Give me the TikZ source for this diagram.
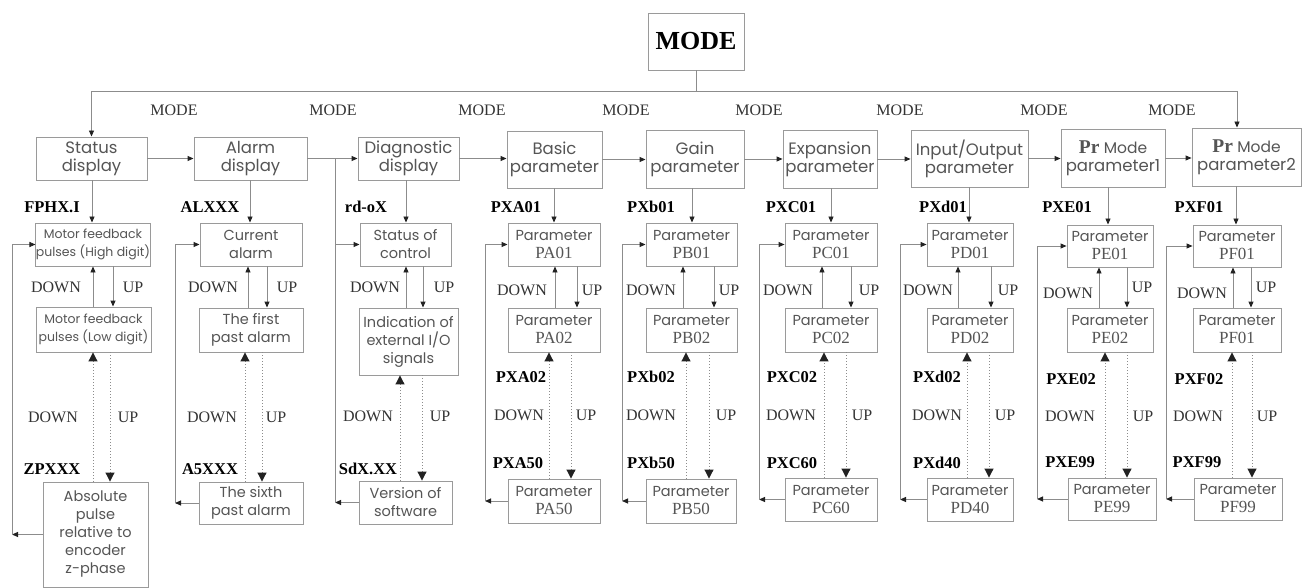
\documentclass[tikz,border=0pt]{standalone}
\usepackage{fontspec}
\setmainfont{Liberation Serif}
\newfontfamily\gothic{Poppins}
\usetikzlibrary{arrows.meta}
\definecolor{boxc}{HTML}{9A9A9A}
\definecolor{linec}{HTML}{8C8C8C}
\definecolor{txtc}{HTML}{555555}
\definecolor{labc}{HTML}{333333}
\definecolor{tipc}{HTML}{222222}
\tikzset{
 bx/.style={draw=boxc, line width=0.9pt, inner sep=0pt, align=center, text=txtc, font=\gothic\fontsize{14.5}{18}\selectfont},
 tbx/.style={bx, font=\gothic\fontsize{16.5}{18}\selectfont},
 sbx/.style={bx, font=\gothic\fontsize{12.5}{18}\selectfont},
 ln/.style={draw=linec, line width=0.9pt},
 arr/.style={ln, -{Triangle[width=5pt,length=6pt,color=tipc]}},
 darr/.style={draw=linec, line width=1pt, dotted, -{Triangle[width=9pt,length=9pt,color=tipc]}},
 code/.style={font=\fontsize{16.5}{16.5}\selectfont\bfseries, text=black, inner sep=0pt},
 lab/.style={font=\fontsize{16}{16}\selectfont, text=labc, inner sep=0pt},
}
\newcommand\myB[7][bx]{\node[#1,minimum width={(#5-#3)*1pt},minimum height={(#6-#4)*1pt}] (#2) at ({(#3+#5)/2},{(#4+#6)/2}) {#7};}
\newcommand\myCol[7]{%
 \draw[arr] (#1.south -| #2,0) -- (#11.north -| #2,0);
 \draw[arr] (#12.north -| #3,0) -- (#11.south -| #3,0);
 \draw[arr] (#11.south -| #4,0) -- (#12.north -| #4,0);
 \draw[darr] (#13.north -| #5,0) -- (#12.south -| #5,0);
 \draw[darr] (#12.south -| #6,0) -- (#13.north -| #6,0);
 \coordinate (#1L) at (#7,0);
 \draw[arr] (#13.west) -- (#13.west -| #1L);
 \draw[arr] (#13.west -| #1L) |- (#11.west);
}
\newcommand\myPar[1]{Parameter\\{\rmfamily\fontsize{17}{18}\selectfont #1}}
\newcommand\myPrM[1]{{\rmfamily\bfseries\fontsize{19.5}{18}\selectfont Pr} {\fontsize{15.5}{18}\selectfont Mode}\\parameter#1}
\begin{document}
\begin{tikzpicture}[x=1pt,y=-1pt]
\useasboundingbox[fill=white] (0,0) rectangle (1304,588);
% top MODE
\node[draw=boxc, line width=0.9pt, inner sep=0pt, font=\bfseries\fontsize{26}{26}\selectfont, text=black, minimum width=96pt, minimum height=57pt] (mode) at (696,41.5) {MODE};
% top row
\myB[tbx]{st}{36}{137}{147}{180}{Status\\display}
\myB[tbx]{al}{194}{137}{307}{180}{Alarm\\display}
\myB[tbx]{dg}{358}{137}{459}{180}{Diagnostic\\display}
\myB[tbx]{ba}{507}{131}{602}{188}{Basic\\parameter}
\myB[tbx]{ga}{646}{130}{744}{188}{Gain\\parameter}
\myB[tbx]{ex}{783}{130}{877}{188}{Expansion\\parameter}
\myB[tbx]{io}{911}{130}{1028}{187}{Input/Output\\parameter}
\myB[tbx]{p1}{1061}{129}{1165}{187}{\myPrM{1}}
\myB[tbx]{p2}{1192}{128}{1301}{186}{\myPrM{2}}
% bus
\coordinate (bus) at (696,91);
\draw[ln] (mode.south) -- (bus);
\draw[arr] (bus) -| (st.north);
\draw[arr] (bus) -| (p2.north -| 1237,0);
\foreach \a/\b in {st/al,al/dg,dg/ba,ba/ga,ga/ex,ex/io,io/p1,p1/p2}
  \draw[arr] (\a.east) -- (\a.east -| \b.west);
% MODE labels
\foreach \x [count=\i] in {174,333,482,626,759,900,1044,1172}
  \node[lab] (ml\i) at (\x,110) {MODE};
% column boxes
\myB[sbx]{st1}{36}{223}{150}{266}{Motor feedback\\pulses (High digit)}
\myB[sbx]{st2}{36}{307}{151}{352}{Motor feedback\\pulses (Low digit)}
\myB{st3}{43}{482}{148}{587}{Absolute\\pulse\\relative to\\encoder\\z-phase}
\myB{al1}{200}{223}{302}{266}{Current\\alarm}
\myB{al2}{199}{308}{303}{352}{The first\\past alarm}
\myB{al3}{199}{482}{303}{524}{The sixth\\past alarm}
\myB{dg1}{360}{223}{451}{266}{Status of\\control}
\myB{dg2}{359}{308}{458}{375}{Indication of\\external I/O\\signals}
\myB{dg3}{359}{481}{452}{524}{Version of\\software}
\myB{ba1}{508}{223}{600}{266}{\myPar{PA01}}
\myB{ba2}{508}{308}{600}{352}{\myPar{PA02}}
\myB{ba3}{508}{479}{600}{523}{\myPar{PA50}}
\myB{ga1}{646}{223}{737}{266}{\myPar{PB01}}
\myB{ga2}{646}{308}{737}{352}{\myPar{PB02}}
\myB{ga3}{646}{479}{736}{523}{\myPar{PB50}}
\myB{ex1}{785}{223}{877}{266}{\myPar{PC01}}
\myB{ex2}{785}{308}{877}{352}{\myPar{PC02}}
\myB{ex3}{785}{478}{877}{521}{\myPar{PC60}}
\myB{io1}{927}{223}{1013}{266}{\myPar{PD01}}
\myB{io2}{927}{308}{1013}{352}{\myPar{PD02}}
\myB{io3}{927}{478}{1013}{521}{\myPar{PD40}}
\myB{p11}{1067}{225}{1153}{267}{\myPar{PE01}}
\myB{p12}{1067}{308}{1153}{352}{\myPar{PE02}}
\myB{p13}{1068}{478}{1156}{520}{\myPar{PE99}}
\myB{p21}{1193}{225}{1281}{267}{\myPar{PF01}}
\myB{p22}{1193}{308}{1281}{352}{\myPar{PF01}}
\myB{p23}{1194}{478}{1282}{520}{\myPar{PF99}}
% connectors per column
\myCol{st}{92}{93}{113}{93}{110}{12}
\myCol{al}{250}{248}{267}{245}{262}{175}
\myCol{dg}{406}{406}{423}{400}{422}{335}
\draw[ln] (al.east -| dgL) -- (dg3.west -| dgL);
\myCol{ba}{554}{555}{577}{549}{571}{485}
\myCol{ga}{692}{683}{714}{686}{709}{622}
\myCol{ex}{831}{822}{851}{824}{846}{759}
\myCol{io}{969}{958}{991}{967}{989}{900}
\myCol{p1}{1108}{1099}{1127}{1105}{1127}{1037}
\myCol{p2}{1236}{1233}{1251}{1232}{1252}{1166}
% codes
\node[code] (k1a) at (52,207) {FPHX.I};
\node[code] (k1c) at (52,469) {ZPXXX};
\node[code] (k2a) at (210,207) {ALXXX};
\node[code] (k2c) at (210,469) {A5XXX};
\node[code] (k3a) at (366,207) {rd-oX};
\node[code] (k3c) at (368,469) {SdX.XX};
\node[code] (k4a) at (516,207) {PXA01};
\node[code] (k4b) at (521,377) {PXA02};
\node[code] (k4c) at (518,463) {PXA50};
\node[code] (k5a) at (651,207) {PXb01};
\node[code] (k5b) at (651,377) {PXb02};
\node[code] (k5c) at (651,463) {PXb50};
\node[code] (k6a) at (791,207) {PXC01};
\node[code] (k6b) at (792,377) {PXC02};
\node[code] (k6c) at (792,463) {PXC60};
\node[code] (k7a) at (943,207) {PXd01};
\node[code] (k7b) at (937,377) {PXd02};
\node[code] (k7c) at (937,463) {PXd40};
\node[code] (k8a) at (1067,207) {PXE01};
\node[code] (k8b) at (1071,379) {PXE02};
\node[code] (k8c) at (1070,462) {PXE99};
\node[code] (k9a) at (1199,207) {PXF01};
\node[code] (k9b) at (1199,379) {PXF02};
\node[code] (k9c) at (1197,462) {PXF99};
% DOWN / UP labels
\foreach \dx/\dy/\ux/\uy/\ddx/\ddy/\uux/\uuy [count=\i] in
 {56/287/133/287/53/417/128/417,
  213/287/287/287/212/417/276/417,
  375/287/444/287/368/416/440/416,
  522/290/592/290/519/415/586/415,
  651/290/729/290/651/415/726/415,
  788/290/869/290/791/415/862/415,
  928/290/1008/290/937/415/1005/415,
  1068/293/1142/287/1070/416/1143/416,
  1202/293/1266/287/1198/416/1267/416}{
  \node[lab] (dn\i) at (\dx,\dy) {DOWN};
  \node[lab] (up\i) at (\ux,\uy) {UP};
  \node[lab] (ddn\i) at (\ddx,\ddy) {DOWN};
  \node[lab] (uup\i) at (\uux,\uuy) {UP};
}
\end{tikzpicture}
\end{document}
